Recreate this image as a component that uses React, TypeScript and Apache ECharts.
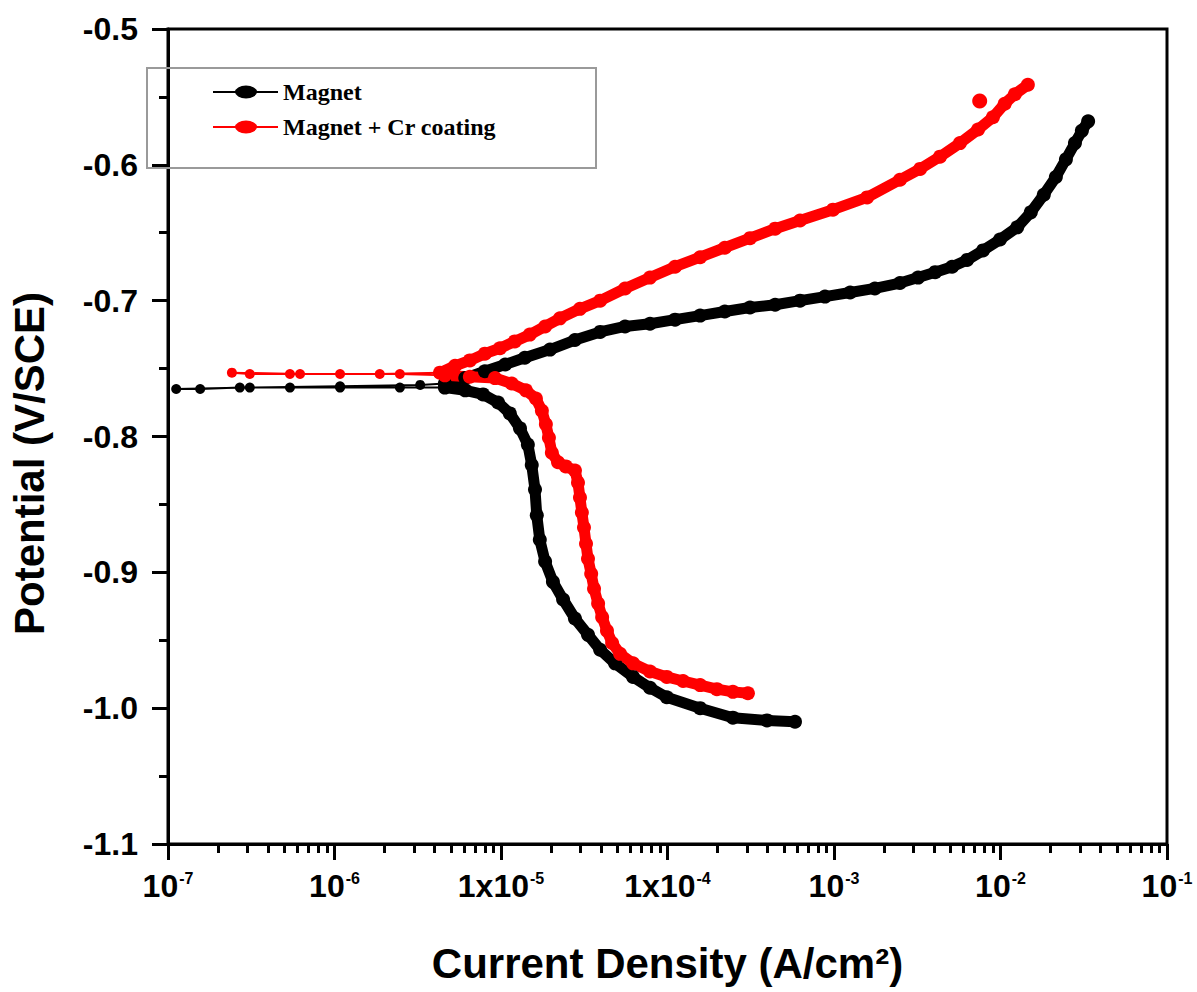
import { useEffect, useRef } from 'react';
import * as echarts from 'echarts';

// Current density (A/cm2) vs potential (V/SCE)
const magnetCathodic: [number, number][] = [
  [5.83e-4, -1.010], [3.96e-4, -1.009], [2.47e-4, -1.007], [1.57e-4, -1.000], [9.9e-5, -0.992],
  [7.85e-5, -0.985], [6.21e-5, -0.977], [4.84e-5, -0.967], [3.94e-5, -0.957], [3.33e-5, -0.946],
  [2.78e-5, -0.934], [2.36e-5, -0.920], [2.05e-5, -0.907], [1.84e-5, -0.892], [1.71e-5, -0.876],
  [1.64e-5, -0.858], [1.60e-5, -0.839], [1.53e-5, -0.821], [1.45e-5, -0.806], [1.30e-5, -0.794],
  [1.13e-5, -0.783], [9.6e-6, -0.775], [7.8e-6, -0.769], [6.1e-6, -0.766], [4.6e-6, -0.764],
];
const magnetLowCurrent: [number, number][] = [
  [4.6e-6, -0.764], [2.47e-6, -0.764], [1.08e-6, -0.764], [5.4e-7, -0.764], [2.7e-7, -0.764],
  [1.56e-7, -0.765], [1.12e-7, -0.765], [3.1e-7, -0.764], [1.08e-6, -0.763], [3.27e-6, -0.762],
  [4.6e-6, -0.761],
];
const magnetAnodic: [number, number][] = [
  [4.6e-6, -0.761], [6.1e-6, -0.757], [8.0e-6, -0.752], [1.06e-5, -0.747], [1.39e-5, -0.742],
  [1.97e-5, -0.736], [2.78e-5, -0.729], [3.94e-5, -0.723], [5.56e-5, -0.719], [7.85e-5, -0.717],
  [1.11e-4, -0.714], [1.57e-4, -0.711], [2.21e-4, -0.708], [3.13e-4, -0.705], [4.43e-4, -0.703],
  [6.25e-4, -0.700], [8.83e-4, -0.697], [1.25e-3, -0.694], [1.76e-3, -0.691], [2.49e-3, -0.687],
  [3.20e-3, -0.683], [4.05e-3, -0.679], [5.12e-3, -0.675], [6.30e-3, -0.670], [7.85e-3, -0.663],
  [9.93e-3, -0.655], [1.26e-2, -0.646], [1.52e-2, -0.635], [1.82e-2, -0.622], [2.15e-2, -0.609],
  [2.47e-2, -0.596], [2.80e-2, -0.584], [3.08e-2, -0.575], [3.36e-2, -0.568],
];
const coatedCathodic: [number, number][] = [
  [3.04e-4, -0.989], [2.47e-4, -0.988], [1.98e-4, -0.986], [1.57e-4, -0.983], [1.24e-4, -0.980],
  [9.9e-5, -0.977], [7.85e-5, -0.973], [6.21e-5, -0.967], [5.19e-5, -0.960], [4.65e-5, -0.952],
  [4.33e-5, -0.943], [4.05e-5, -0.933], [3.83e-5, -0.923], [3.62e-5, -0.912], [3.48e-5, -0.901],
  [3.33e-5, -0.890], [3.24e-5, -0.879], [3.15e-5, -0.867], [3.06e-5, -0.856], [2.98e-5, -0.845],
  [2.90e-5, -0.834], [2.78e-5, -0.825], [2.45e-5, -0.822], [2.20e-5, -0.819], [2.02e-5, -0.812],
  [1.94e-5, -0.801], [1.86e-5, -0.791], [1.76e-5, -0.781], [1.62e-5, -0.772], [1.41e-5, -0.766],
  [1.16e-5, -0.761], [9.2e-6, -0.757], [6.5e-6, -0.756], [4.6e-6, -0.755],
];
const coatedLowCurrent: [number, number][] = [
  [4.6e-6, -0.755], [2.47e-6, -0.754], [1.08e-6, -0.754], [5.4e-7, -0.754], [3.1e-7, -0.754],
  [2.42e-7, -0.753], [6.21e-7, -0.754], [1.87e-6, -0.754], [4.3e-6, -0.753],
];
const coatedAnodic: [number, number][] = [
  [4.3e-6, -0.753], [5.3e-6, -0.748], [6.5e-6, -0.744], [8.0e-6, -0.739], [9.86e-6, -0.735],
  [1.21e-5, -0.730], [1.49e-5, -0.725], [1.84e-5, -0.719], [2.26e-5, -0.713], [2.98e-5, -0.706],
  [3.94e-5, -0.700], [5.56e-5, -0.691], [7.85e-5, -0.683], [1.11e-4, -0.675], [1.57e-4, -0.668],
  [2.21e-4, -0.661], [3.13e-4, -0.654], [4.43e-4, -0.647], [6.25e-4, -0.641], [9.86e-4, -0.633],
  [1.58e-3, -0.624], [2.49e-3, -0.611], [3.29e-3, -0.603], [4.33e-3, -0.594], [5.71e-3, -0.584],
  [7.33e-3, -0.574], [9.0e-3, -0.565], [1.06e-2, -0.555], [1.22e-2, -0.548], [1.46e-2, -0.541],
];
const coatedStray: [number, number][] = [[7.5e-3, -0.553]];

const SERIES_NAMES = ['Magnet', 'Magnet + Cr coating'];
const COLORS = ['#000000', '#ff0000'];
const X_DECADE_MIN = -7;
const X_DECADE_MAX = -1;
const Y_MIN = -1.1;
const Y_MAX = -0.5;
const Y_STEP = 0.1;
const PREFIXED_EXPONENTS = [-5, -4]; // labelled as "1x10^n"
const MINOR_MULTIPLIERS = [2, 3, 4, 5, 6, 7, 8, 9];

const SANS = '"Liberation Sans", Arial, Helvetica, sans-serif';
const SERIF = '"Liberation Serif", "Times New Roman", serif';

const LEGEND_ICON =
  'path://M0,5.6H23V7.4H0Z M43,5.6H65V7.4H43Z M22,6.5A11,6.5 0 1 1 44,6.5A11,6.5 0 1 1 22,6.5Z';

const minorTickValues: number[] = [];
for (let e = X_DECADE_MIN; e < X_DECADE_MAX; e++) {
  for (const m of MINOR_MULTIPLIERS) minorTickValues.push(e + Math.log10(m));
}

function thinSeries(name: string, color: string, data: [number, number][]) {
  return {
    type: 'line', name, data, xAxisIndex: 0, yAxisIndex: 0,
    symbol: 'circle', symbolSize: 10, showSymbol: true, showAllSymbol: true,
    lineStyle: { width: 2, color }, itemStyle: { color, opacity: 1 }, emphasis: { disabled: true },
  };
}
function thickSeries(name: string, color: string, data: [number, number][]) {
  return {
    type: 'line', name, data, xAxisIndex: 0, yAxisIndex: 0,
    symbol: 'circle', symbolSize: 14, showSymbol: true, showAllSymbol: true,
    lineStyle: { width: 11, color, cap: 'round', join: 'round' }, itemStyle: { color, opacity: 1 },
    emphasis: { disabled: true },
  };
}

export default function App() {
  const ref = useRef<HTMLDivElement>(null);
  useEffect(() => {
    if (!ref.current) return;
    const chart = echarts.init(ref.current, null, { renderer: 'svg' });
    const option: any = {
      animation: false,
      backgroundColor: '#ffffff',
      grid: {
        left: 168, right: 30, top: 29, bottom: 148,
        show: true, borderColor: '#000', borderWidth: 3, backgroundColor: 'transparent',
        outerBoundsMode: 'none', containLabel: false,
      },
      legend: {
        orient: 'vertical', left: 213, top: 80, padding: 0, itemGap: 11,
        itemWidth: 65, itemHeight: 13, selectedMode: false,
        data: SERIES_NAMES.map((n) => ({ name: n, icon: LEGEND_ICON })),
        textStyle: { fontFamily: SERIF, fontWeight: 'bold', fontSize: 24, lineHeight: 24, color: '#000' },
      },
      graphic: [
        {
          type: 'rect', silent: true, z: 1,
          shape: { x: 147, y: 68, width: 449, height: 100 },
          style: { fill: 'none', stroke: '#9a9a9a', lineWidth: 2 },
        },
      ],
      xAxis: [
        {
          type: 'log', logBase: 10, min: Math.pow(10, X_DECADE_MIN), max: Math.pow(10, X_DECADE_MAX),
          splitNumber: 6, position: 'bottom',
          name: 'Current Density (A/cm²)', nameLocation: 'middle', nameGap: 98,
          nameTextStyle: { fontFamily: SANS, fontWeight: 'bold', fontSize: 42, color: '#000' },
          axisLine: { show: true, lineStyle: { color: '#000', width: 3 } },
          axisTick: { show: true, inside: false, length: 16, lineStyle: { color: '#000', width: 3 } },
          splitLine: { show: false },
          axisLabel: {
            show: true, margin: 26, showMinLabel: true, showMaxLabel: true,
            formatter: (v: number) => {
              const e = Math.round(Math.log10(v));
              const base = PREFIXED_EXPONENTS.includes(e) ? '1x10' : '10';
              return `{b|${base}}{s|${e}}`;
            },
            rich: {
              b: { fontFamily: SANS, fontWeight: 'bold', fontSize: 32, color: '#000' },
              s: { fontFamily: SANS, fontWeight: 'bold', fontSize: 16, color: '#000', verticalAlign: 'top', padding: [0, 0, 0, 1] },
            },
          },
        },
        {
          type: 'value', min: X_DECADE_MIN, max: X_DECADE_MAX, position: 'bottom', offset: 0,
          axisLine: { show: false }, splitLine: { show: false }, axisLabel: { show: false },
          axisTick: { show: true, inside: false, length: 9, lineStyle: { color: '#000', width: 3 }, customValues: minorTickValues },
        },
      ],
      yAxis: {
        type: 'value', min: Y_MIN, max: Y_MAX, interval: Y_STEP,
        name: 'Potential (V/SCE)', nameLocation: 'middle', nameGap: 118,
        nameTextStyle: { fontFamily: SANS, fontWeight: 'bold', fontSize: 42, color: '#000', padding: [0, 54, 0, 0] },
        axisLine: { show: true, lineStyle: { color: '#000', width: 3 } },
        axisTick: { show: true, inside: false, length: 16, lineStyle: { color: '#000', width: 3 } },
        minorTick: { show: true, splitNumber: 2, length: 9, lineStyle: { color: '#000', width: 3 } },
        splitLine: { show: false }, minorSplitLine: { show: false },
        axisLabel: {
          margin: 30, showMinLabel: true, showMaxLabel: true,
          fontFamily: SANS, fontWeight: 'bold', fontSize: 32, color: '#000',
          formatter: (v: number) => v.toFixed(1),
        },
      },
      series: [
        thinSeries(SERIES_NAMES[0], COLORS[0], magnetLowCurrent),
        thickSeries(SERIES_NAMES[0], COLORS[0], magnetCathodic),
        thickSeries(SERIES_NAMES[0], COLORS[0], magnetAnodic),
        thinSeries(SERIES_NAMES[1], COLORS[1], coatedLowCurrent),
        thickSeries(SERIES_NAMES[1], COLORS[1], coatedCathodic),
        thickSeries(SERIES_NAMES[1], COLORS[1], coatedAnodic),
        {
          type: 'scatter', name: SERIES_NAMES[1], data: coatedStray, symbol: 'circle', symbolSize: 15,
          itemStyle: { color: COLORS[1], opacity: 1 }, emphasis: { disabled: true },
        },
      ],
    };
    chart.setOption(option);
    return () => chart.dispose();
  }, []);
  return <div ref={ref} style={{ position: 'fixed', left: 0, top: 0, width: 1197, height: 992 }} />;
}
